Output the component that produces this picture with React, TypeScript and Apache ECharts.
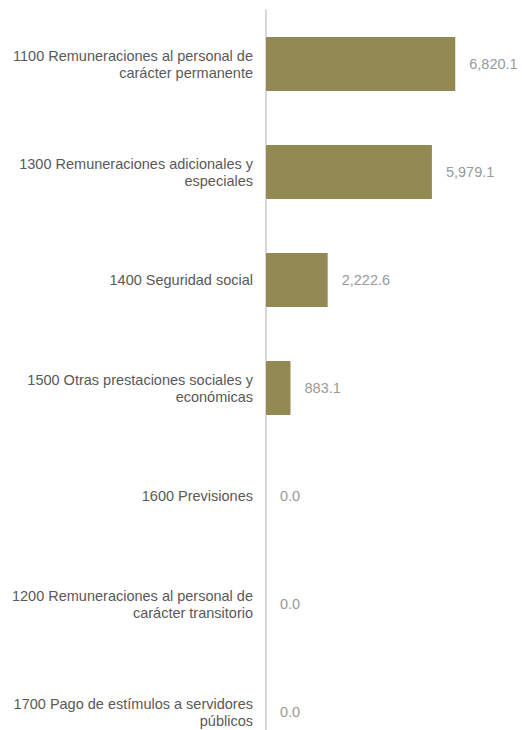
import React, { useEffect, useRef } from "react";
import * as echarts from "echarts";

const categories = [
  "1100 Remuneraciones al personal de\ncarácter permanente",
  "1300 Remuneraciones adicionales y\nespeciales",
  "1400 Seguridad social",
  "1500 Otras prestaciones sociales y\neconómicas",
  "1600 Previsiones",
  "1200 Remuneraciones al personal de\ncarácter transitorio",
  "1700 Pago de estímulos a servidores\npúblicos",
];
const values = [6820.1, 5979.1, 2222.6, 883.1, 0.0, 0.0, 0.0];

const fmt = (v: number) =>
  v.toLocaleString("en-US", { minimumFractionDigits: 1, maximumFractionDigits: 1 });

export default function App() {
  const ref = useRef<HTMLDivElement>(null);
  useEffect(() => {
    if (!ref.current) return;
    const chart = echarts.init(ref.current, undefined, { renderer: "svg" });
    chart.setOption({
      animation: false,
      grid: { left: 266, right: 34, top: 10, bottom: 0, containLabel: false },
      xAxis: {
        type: "value",
        min: 0,
        max: 8000,
        show: false,
      },
      yAxis: {
        type: "category",
        data: categories,
        inverse: true,
        axisLine: { show: true, lineStyle: { color: "#d9d9d9", width: 2 } },
        axisTick: { show: false },
        axisLabel: {
          margin: 13,
          fontFamily: "Liberation Sans, Arial, sans-serif",
          fontSize: 14.5,
          lineHeight: 17,
          color: "#595959",
          align: "right",
        },
      },
      series: [
        {
          type: "bar",
          data: values,
          barWidth: "50%",
          itemStyle: { color: "#938953" },
          label: {
            show: true,
            position: "right",
            distance: 14,
            fontFamily: "Liberation Sans, Arial, sans-serif",
            fontSize: 14.5,
            color: "#9a9a9a",
            formatter: (p: any) => fmt(p.value),
          },
        },
      ],
    });
    return () => chart.dispose();
  }, []);
  return (
    <div
      style={{
        position: "absolute",
        left: 0,
        top: 0,
        width: 522,
        height: 730,
        overflow: "hidden",
      }}
    >
      <div ref={ref} style={{ width: 522, height: 766 }} />
    </div>
  );
}
